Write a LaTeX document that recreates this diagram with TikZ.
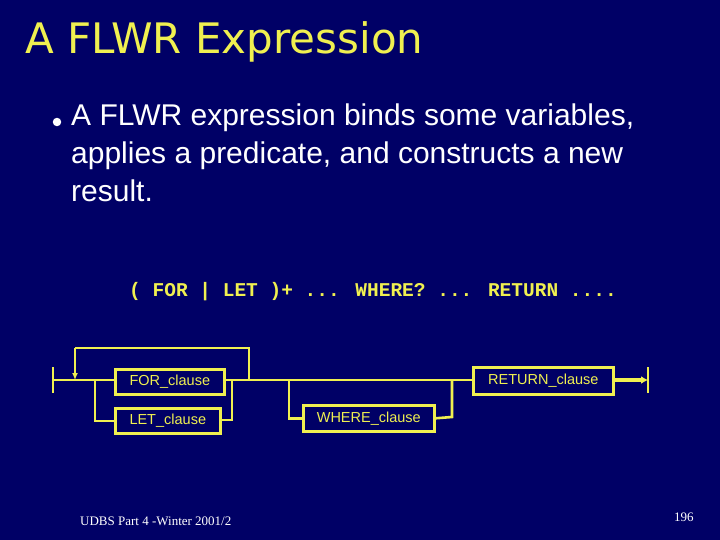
\documentclass[tikz,border=0pt]{standalone}
\usepackage{fontspec}
\setmainfont{Liberation Sans}
\newfontfamily\titlefont{DejaVu Sans}
\newfontfamily\codefont{Liberation Mono}
\newfontfamily\serifont{Liberation Serif}
\usetikzlibrary{arrows.meta}
\definecolor{bg}{HTML}{000066}
\definecolor{yel}{HTML}{F0F050}
\begin{document}
\begin{tikzpicture}[x=1pt,y=-1pt,
  box/.style={draw=yel,line width=2.6pt,text=yel,font=\fontsize{14.5}{16}\selectfont,inner sep=0pt,anchor=north west},
  ln/.style={draw=yel,line width=2.6pt}]
\fill[bg] (0,0) rectangle (720,540);
\useasboundingbox (0,0) rectangle (720,540);
\node[anchor=west,text=yel,font=\titlefont\fontsize{42}{46}\selectfont] (title) at (22,42) {A FLWR Expression};
\node[circle,fill=white,inner sep=3pt] (bul) at (57,122) {};
\node[anchor=north west,text=white,align=left,font=\fontsize{30}{38}\selectfont,inner sep=0pt] (txt) at (71,104) {A FLWR expression binds some variables,\\applies a predicate, and constructs a new\\result.};
\node[anchor=west,text=yel,font=\codefont\bfseries\fontsize{19.5}{22}\selectfont,inner sep=0pt] (code) at (129,292) {( FOR | LET )+ ... WHERE? ... RETURN ....};
% boxes
\node[box,minimum width=109pt,minimum height=25pt] (for) at (114,368) {FOR\_clause};
\node[box,minimum width=105pt,minimum height=25pt] (let) at (114,407) {LET\_clause};
\node[box,minimum width=131pt,minimum height=26pt] (where) at (302,404) {WHERE\_clause};
\node[box,minimum width=140pt,minimum height=27pt] (ret) at (472,366) {RETURN\_clause};
\coordinate (s) at (53,380);
\coordinate (e) at (648,380);
\draw[ln] (53,367) -- (53,393);
\draw[ln] (648,367) -- (648,393);
\draw[ln] (s) -- (for.west|-s);
\draw[ln] (95,380) |- (let.west);
\draw[ln] (for.east|-s) -- (232,380) -- (232,420) -- (let.east|-0,420);
\draw[ln] (232,380) -- (ret.west|-s);
\draw[ln] (249,380) -- (249,348) -- (75,348);
\draw[ln,-{Latex[length=7pt,width=6pt]}] (75,348) -- (75,380);
\draw[ln] (289,380) |- (where.west);
\draw[ln] (where.east) -- (452,417) -- (452,380);
\draw[draw=yel,line width=4pt,-{Latex[length=7pt,width=8pt]}] (ret.east|-s) -- (e);
\node[anchor=west,text=white,font=\serifont\fontsize{13}{15}\selectfont,inner sep=0pt] (foot) at (80,521) {UDBS Part 4 -Winter 2001/2};
\node[anchor=west,text=white,font=\serifont\fontsize{13}{15}\selectfont,inner sep=0pt] (num) at (674,517) {196};
\end{tikzpicture}
\end{document}
